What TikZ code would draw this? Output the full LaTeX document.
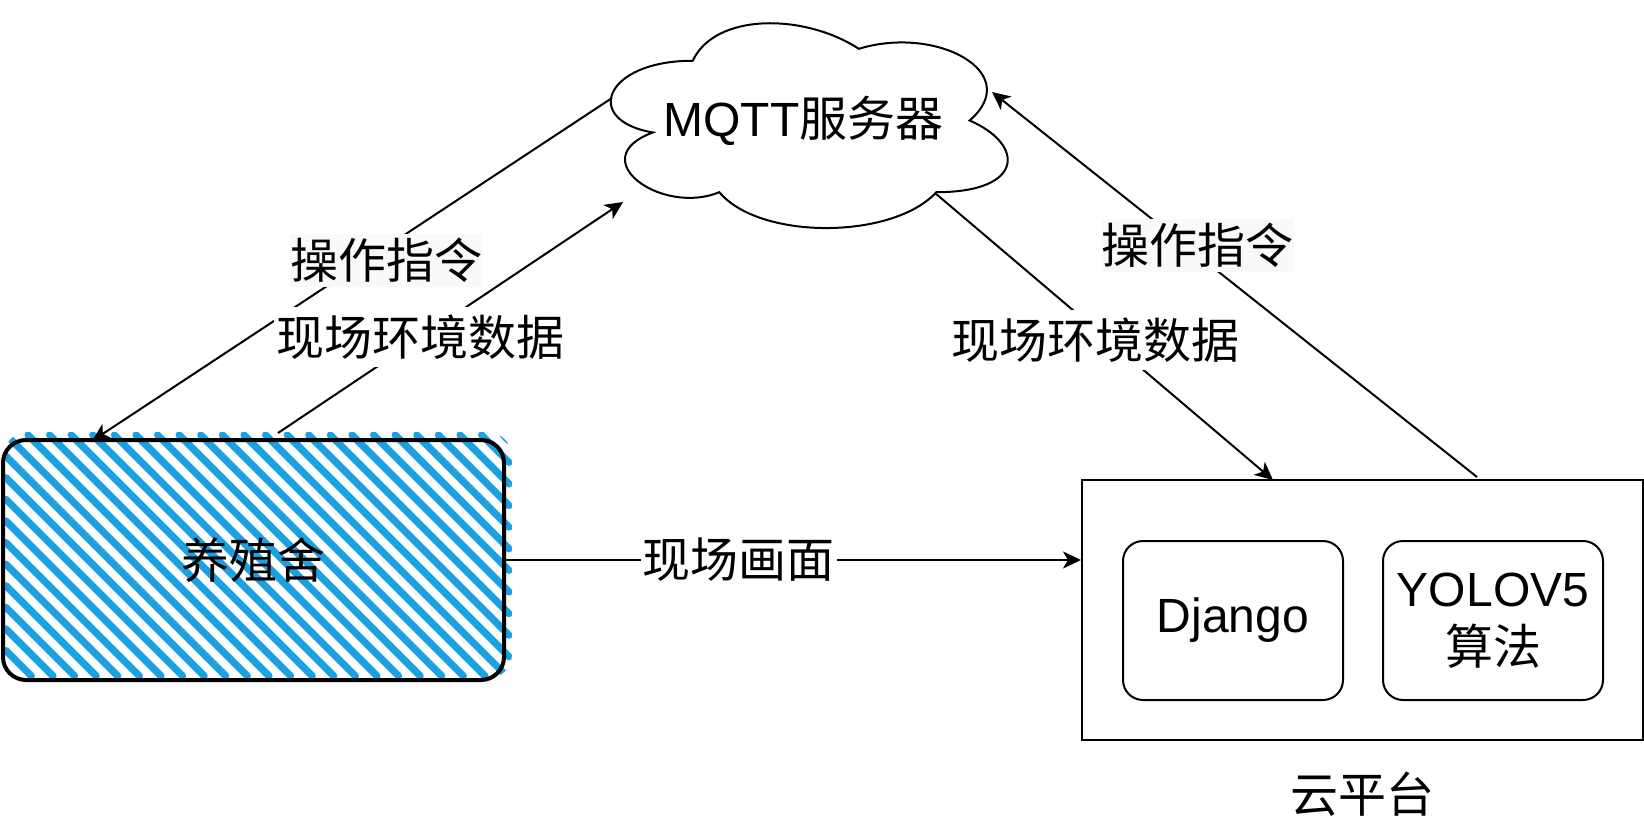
\documentclass[tikz,border=0pt]{standalone}
\usepackage{fontspec}
\setmainfont{Liberation Sans}
\newfontfamily\cjk{Noto Sans CJK SC}
\usetikzlibrary{arrows.meta}
\definecolor{hatchblue}{HTML}{1BA1E2}
\definecolor{labelbg}{HTML}{F8F9FA}
\begin{document}
\begin{tikzpicture}[x=0.5pt,y=-0.5pt,
  every node/.style={font=\fontsize{24pt}{29pt}\selectfont},
  conn/.style={line width=1pt,-{Stealth[length=9pt,width=8.5pt,inset=2.5pt]}},
  hatch/.style={draw=hatchblue,line width=3.6pt,line cap=round},
  plainbox/.style={draw,line width=1pt,inner sep=0pt},
  appbox/.style={plainbox,rounded corners=10pt,minimum width=110pt,minimum height=79.5pt,align=center},
  cmdlabel/.style={fill=labelbg,minimum width=96pt,minimum height=26.5pt,inner sep=0pt},
  datalabel/.style={fill=white,inner xsep=1pt,inner ysep=0pt,minimum height=30pt}]
\useasboundingbox (0,0) rectangle (1644,824);
% hatched fill of the shed
\begin{scope}
\clip[rounded corners=12.5pt] (3,432) rectangle (512,679);
\foreach \k in {0,...,34}{
  \pgfmathsetmacro\hc{-666.2+21.6*\k}
  \pgfmathsetmacro\hxs{max(6,\hc+435)}
  \pgfmathsetmacro\hys{\hxs-\hc}
  \pgfmathsetmacro\hxe{min(509,\hc+676)}
  \pgfmathsetmacro\hye{\hxe-\hc}
  \draw[hatch] (\hxs,\hys) -- (\hxe,\hye);
}
\end{scope}
\node[draw,line width=2pt,rounded corners=11.5pt,minimum width=250.5pt,minimum height=120pt,inner sep=0pt] (shed) at (253.5,560) {{\cjk 养殖舍}};
% cloud
\draw[line width=1pt] (692.75,60.75) .. controls (604.15,60.75) and (582,120.5) .. (652.88,132.45)
 .. controls (582,158.74) and (661.74,216.1) .. (719.33,192.2)
 .. controls (759.2,240) and (892.1,240) .. (936.4,192.2)
 .. controls (1025,192.2) and (1025,144.4) .. (969.625,120.5)
 .. controls (1025,72.7) and (936.4,24.9) .. (858.875,48.8)
 .. controls (803.5,12.95) and (714.9,12.95) .. (692.75,60.75) -- cycle;
\node (mqtt) at (803.5,120.5) {MQTT{\cjk 服务器}};
% cloud platform
\node[plainbox,minimum width=280.5pt,minimum height=130pt] (platform) at (1362.5,610) {};
\node[appbox] (django) at (1233,620.5) {Django};
\node[appbox] (yolo) at (1493,620.5) {YOLOV5\\{\cjk 算法}};
\node (cloudname) at (1362,794) {{\cjk 云平台}};
% connector end points
\coordinate (cmdLs) at (612,98);
\coordinate (cmdLe) at (92,441);
\coordinate (envLs) at (278,433);
\coordinate (envLe) at (623,202);
\coordinate (envRs) at (935,193);
\coordinate (envRe) at (1273,480);
\coordinate (cmdRs) at (1477,477);
\coordinate (cmdRe) at (992,92);
\draw[conn] (cmdLs) -- (cmdLe);
\draw[conn] (envLs) -- (envLe);
\draw[conn] (envRs) -- (envRe);
\draw[conn] (cmdRs) -- (cmdRe);
\draw[conn] (shed.east) -- (shed.east -| platform.west) node[datalabel,pos=0.405] (liveL) {{\cjk 现场画面}};
% labels
\node[cmdlabel] (cmdLlabel) at (386,260.5) {{\cjk 操作指令}};
\node[datalabel] (envLlabel) at (420,337) {{\cjk 现场环境数据}};
\node[datalabel] (envRlabel) at (1095,340) {{\cjk 现场环境数据}};
\node[cmdlabel] (cmdRlabel) at (1197.5,245) {{\cjk 操作指令}};
\end{tikzpicture}
\end{document}
